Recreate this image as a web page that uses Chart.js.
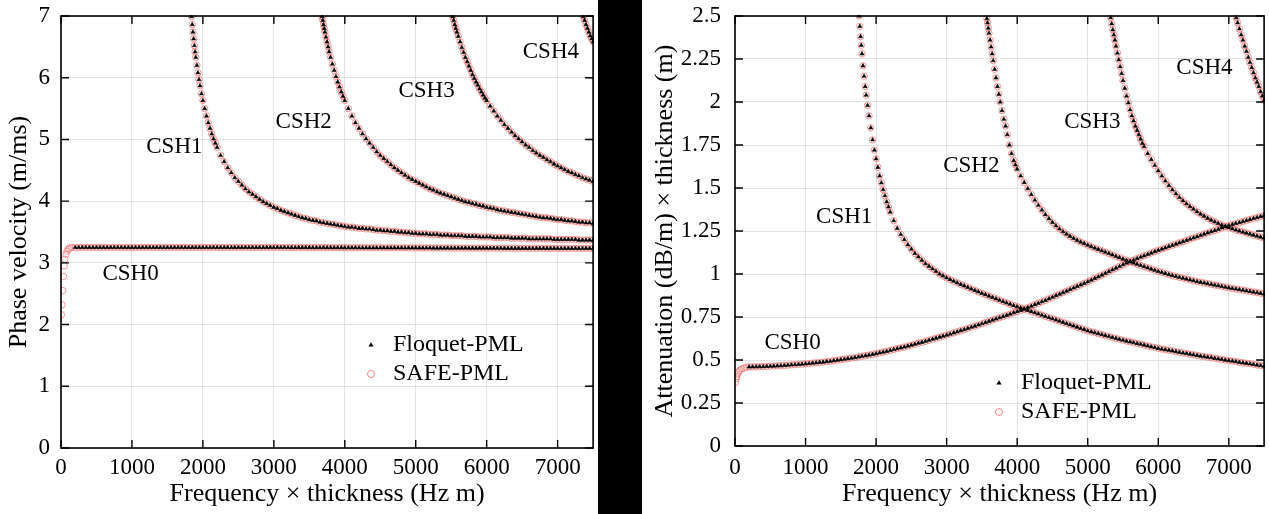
<!DOCTYPE html>
<html>
<head>
<meta charset="utf-8">
<script src="https://cdn.jsdelivr.net/npm/chart.js@4.4.1/dist/chart.umd.min.js"></script>
<style>
  body { margin: 0; background: #fff; }
  #wrap { position: relative; width: 1269px; height: 514px; background: #fff; overflow: hidden; }
  #velChart { position: absolute; left: 0; top: 0; }
  #attChart { position: absolute; left: 642px; top: 0; }
  #divider { position: absolute; left: 598px; top: 0; width: 44px; height: 514px; background: #000; }
</style>
</head>
<body>
<div id="wrap">
  <canvas id="velChart" width="598" height="514"></canvas>
  <div id="divider"></div>
  <canvas id="attChart" width="627" height="514"></canvas>
</div>
<script>
// shared frequency x thickness grid (Hz m) for the smooth tails of every mode
const freqGrid = [
  500, 550, 600, 650, 700, 750, 800, 850, 900, 950,
  1000, 1050, 1100, 1150, 1200, 1250, 1300, 1350, 1400, 1450,
  1500, 1550, 1600, 1650, 1700, 1750, 1800, 1850, 1900, 1950,
  2000, 2050, 2100, 2150, 2200, 2250, 2300, 2350, 2400, 2450,
  2500, 2550, 2600, 2650, 2700, 2750, 2800, 2850, 2900, 2950,
  3000, 3050, 3100, 3150, 3200, 3250, 3300, 3350, 3400, 3450,
  3500, 3550, 3600, 3650, 3700, 3750, 3800, 3850, 3900, 3950,
  4000, 4050, 4100, 4150, 4200, 4250, 4300, 4350, 4400, 4450,
  4500, 4550, 4600, 4650, 4700, 4750, 4800, 4850, 4900, 4950,
  5000, 5050, 5100, 5150, 5200, 5250, 5300, 5350, 5400, 5450,
  5500, 5550, 5600, 5650, 5700, 5750, 5800, 5850, 5900, 5950,
  6000, 6050, 6100, 6150, 6200, 6250, 6300, 6350, 6400, 6450,
  6500, 6550, 6600, 6650, 6700, 6750, 6800, 6850, 6900, 6950,
  7000, 7050, 7100, 7150, 7200, 7250, 7300, 7350, 7400, 7450,
  7500
];

const xTickValues = [0, 1000, 2000, 3000, 4000, 5000, 6000, 7000];
const modeNames = ['CSH0', 'CSH1', 'CSH2', 'CSH3', 'CSH4'];

// ---- phase velocity (m/ms) ----
const velCsh0HeadF = [200, 250, 300, 350, 400, 450];
const velCsh0HeadV = [3.25, 3.25, 3.25, 3.25, 3.25, 3.25];
const velCsh0Tail = [
  3.25, 3.25, 3.25, 3.25, 3.25, 3.25, 3.25, 3.25, 3.25, 3.25,
  3.25, 3.25, 3.25, 3.25, 3.25, 3.25, 3.25, 3.25, 3.25, 3.25,
  3.25, 3.25, 3.25, 3.25, 3.25, 3.25, 3.25, 3.25, 3.25, 3.25,
  3.25, 3.25, 3.25, 3.25, 3.25, 3.25, 3.25, 3.25, 3.25, 3.25,
  3.25, 3.25, 3.25, 3.25, 3.25, 3.25, 3.25, 3.25, 3.25, 3.25,
  3.25, 3.25, 3.25, 3.25, 3.25, 3.249, 3.249, 3.249, 3.249, 3.249,
  3.248, 3.248, 3.248, 3.248, 3.248, 3.247, 3.247, 3.247, 3.247, 3.247,
  3.246, 3.246, 3.246, 3.246, 3.246, 3.245, 3.245, 3.245, 3.245, 3.245,
  3.244, 3.244, 3.244, 3.244, 3.244, 3.243, 3.243, 3.243, 3.243, 3.243,
  3.242, 3.242, 3.242, 3.242, 3.242, 3.241, 3.241, 3.241, 3.241, 3.241,
  3.240, 3.240, 3.240, 3.240, 3.240, 3.239, 3.239, 3.239, 3.239, 3.239,
  3.238, 3.238, 3.238, 3.238, 3.238, 3.237, 3.237, 3.237, 3.237, 3.237,
  3.236, 3.236, 3.236, 3.236, 3.236, 3.236, 3.236, 3.236, 3.236, 3.236,
  3.235, 3.235, 3.235, 3.235, 3.235, 3.235, 3.235, 3.235, 3.235, 3.235,
  3.235
];
// SAFE-PML also resolves the low-frequency start of CSH0
const velSafeStartF = [5, 15, 25, 35, 45, 55, 70, 85, 100, 120, 150];
const velSafeStartV = [2.16, 2.32, 2.55, 2.78, 2.95, 3.06, 3.14, 3.19, 3.22, 3.24, 3.25];

const velCsh1HeadF = [1840, 1850, 1860, 1870, 1880, 1890, 1900, 1915, 1930, 1945, 1960, 1980, 2000,
  2025, 2050, 2075, 2100, 2125, 2150, 2175, 2200, 2250, 2300, 2350, 2400, 2450];
const velCsh1HeadV = [6.99, 6.86, 6.74, 6.63, 6.52, 6.42, 6.33, 6.20, 6.08, 5.97, 5.87, 5.74, 5.63,
  5.50, 5.38, 5.27, 5.18, 5.09, 5.01, 4.94, 4.87, 4.74, 4.64, 4.54, 4.46, 4.38];
const velCsh1Tail = [
  4.32, 4.26, 4.20, 4.15, 4.11, 4.07, 4.03, 3.99, 3.96, 3.93,
  3.90, 3.88, 3.85, 3.83, 3.81, 3.79, 3.77, 3.75, 3.73, 3.72,
  3.70, 3.69, 3.68, 3.66, 3.65, 3.64, 3.63, 3.62, 3.61, 3.60,
  3.59, 3.58, 3.58, 3.57, 3.56, 3.56, 3.55, 3.55, 3.54, 3.53,
  3.53, 3.52, 3.52, 3.51, 3.51, 3.50, 3.50, 3.49, 3.49, 3.48,
  3.48, 3.47, 3.47, 3.47, 3.46, 3.46, 3.46, 3.45, 3.45, 3.45,
  3.44, 3.44, 3.44, 3.44, 3.43, 3.43, 3.43, 3.43, 3.42, 3.42,
  3.42, 3.42, 3.41, 3.41, 3.41, 3.41, 3.41, 3.40, 3.40, 3.40,
  3.40, 3.40, 3.39, 3.39, 3.39, 3.39, 3.39, 3.39, 3.39, 3.38,
  3.38, 3.38, 3.38, 3.38, 3.38, 3.38, 3.37, 3.37, 3.37, 3.37,
  3.37
];

const velCsh2HeadF = [3680, 3690, 3700, 3710, 3720, 3735, 3750, 3765, 3780, 3800, 3825, 3850, 3875,
  3900, 3925, 3950, 3975];
const velCsh2HeadV = [6.99, 6.93, 6.86, 6.80, 6.74, 6.66, 6.58, 6.50, 6.42, 6.33, 6.22, 6.12, 6.02,
  5.93, 5.85, 5.77, 5.70];
const velCsh2Tail = [
  5.63, 5.50, 5.38, 5.27, 5.18, 5.09, 5.01, 4.94, 4.87, 4.80,
  4.74, 4.69, 4.64, 4.59, 4.54, 4.50, 4.46, 4.42, 4.38, 4.35,
  4.32, 4.29, 4.26, 4.23, 4.20, 4.18, 4.15, 4.13, 4.11, 4.09,
  4.07, 4.05, 4.03, 4.01, 3.99, 3.98, 3.96, 3.95, 3.93, 3.92,
  3.90, 3.89, 3.88, 3.86, 3.85, 3.84, 3.83, 3.82, 3.81, 3.80,
  3.79, 3.78, 3.77, 3.76, 3.75, 3.74, 3.73, 3.73, 3.72, 3.71,
  3.70, 3.70, 3.69, 3.68, 3.68, 3.67, 3.66, 3.66, 3.65, 3.65,
  3.64
];

const velCsh3HeadF = [5520, 5535, 5550, 5565, 5580, 5600, 5625, 5650, 5675, 5700, 5725, 5750, 5775,
  5800, 5825, 5850, 5875, 5900, 5925, 5950, 5975];
const velCsh3HeadV = [6.99, 6.93, 6.86, 6.80, 6.74, 6.67, 6.58, 6.49, 6.41, 6.33, 6.26, 6.19, 6.12,
  6.05, 5.99, 5.93, 5.88, 5.82, 5.77, 5.72, 5.67];
const velCsh3Tail = [
  5.63, 5.54, 5.46, 5.38, 5.31, 5.24, 5.18, 5.12, 5.06, 5.01,
  4.96, 4.91, 4.87, 4.82, 4.78, 4.74, 4.71, 4.67, 4.64, 4.60,
  4.57, 4.54, 4.51, 4.48, 4.46, 4.43, 4.41, 4.38, 4.36, 4.34,
  4.32
];

const velCsh4HeadF = [7360, 7380, 7400, 7420, 7440, 7460, 7480, 7500];
const velCsh4HeadV = [6.99, 6.93, 6.86, 6.80, 6.74, 6.68, 6.63, 6.58];
const velCsh4Tail = [];

const velLabelF = [981, 1598, 3421, 5153, 6905];
const velLabelV = [2.82, 4.88, 5.28, 5.79, 6.41];

// ---- attenuation (dB/m) x thickness (m) ----
const attCsh0HeadF = [200, 250, 300, 350, 400, 450];
const attCsh0HeadV = [0.46, 0.46, 0.461, 0.461, 0.462, 0.463];
const attCsh0Tail = [
  0.464, 0.465, 0.466, 0.467, 0.469, 0.470, 0.472, 0.473, 0.475, 0.476,
  0.478, 0.480, 0.482, 0.484, 0.486, 0.488, 0.491, 0.493, 0.496, 0.499,
  0.502, 0.505, 0.508, 0.511, 0.514, 0.518, 0.522, 0.525, 0.529, 0.533,
  0.537, 0.542, 0.546, 0.551, 0.556, 0.561, 0.566, 0.571, 0.576, 0.581,
  0.587, 0.592, 0.598, 0.603, 0.609, 0.615, 0.621, 0.627, 0.633, 0.639,
  0.645, 0.651, 0.658, 0.664, 0.671, 0.677, 0.684, 0.691, 0.697, 0.704,
  0.711, 0.718, 0.725, 0.732, 0.739, 0.746, 0.753, 0.760, 0.767, 0.775,
  0.782, 0.789, 0.797, 0.805, 0.813, 0.822, 0.830, 0.839, 0.847, 0.856,
  0.865, 0.874, 0.883, 0.892, 0.901, 0.910, 0.919, 0.928, 0.937, 0.946,
  0.955, 0.965, 0.975, 0.984, 0.994, 1.004, 1.014, 1.024, 1.034, 1.044,
  1.054, 1.064, 1.073, 1.081, 1.090, 1.098, 1.106, 1.114, 1.122, 1.130,
  1.138, 1.145, 1.152, 1.160, 1.167, 1.174, 1.181, 1.188, 1.196, 1.203,
  1.210, 1.217, 1.224, 1.232, 1.239, 1.246, 1.253, 1.260, 1.268, 1.275,
  1.282, 1.288, 1.294, 1.299, 1.305, 1.311, 1.317, 1.323, 1.328, 1.334,
  1.340
];
const attSafeStartF = [5, 15, 25, 35, 50, 70, 95, 125, 160];
const attSafeStartV = [0.37, 0.39, 0.405, 0.418, 0.43, 0.44, 0.448, 0.453, 0.457];

const attCsh1HeadF = [1760, 1770, 1780, 1790, 1800, 1815, 1830, 1845, 1860, 1880, 1900, 1925, 1950,
  1975, 2000, 2025, 2050, 2075, 2100, 2125, 2150, 2175, 2200, 2250, 2300, 2350, 2400, 2450];
const attCsh1HeadV = [2.50, 2.44, 2.38, 2.33, 2.28, 2.21, 2.15, 2.09, 2.04, 1.98, 1.92, 1.85, 1.78,
  1.72, 1.67, 1.62, 1.57, 1.53, 1.49, 1.455, 1.42, 1.39, 1.36, 1.31, 1.265, 1.23, 1.20, 1.17];
const attCsh1Tail = [
  1.145, 1.12, 1.10, 1.08, 1.06, 1.045, 1.03, 1.015, 1.00, 0.989,
  0.978, 0.968, 0.958, 0.949, 0.940, 0.931, 0.922, 0.913, 0.905, 0.896,
  0.888, 0.880, 0.872, 0.864, 0.856, 0.848, 0.840, 0.832, 0.825, 0.817,
  0.810, 0.803, 0.796, 0.789, 0.782, 0.775, 0.768, 0.761, 0.754, 0.747,
  0.740, 0.733, 0.726, 0.719, 0.712, 0.705, 0.698, 0.691, 0.684, 0.677,
  0.670, 0.664, 0.659, 0.653, 0.648, 0.642, 0.637, 0.631, 0.626, 0.620,
  0.615, 0.610, 0.606, 0.601, 0.596, 0.592, 0.587, 0.582, 0.577, 0.573,
  0.568, 0.564, 0.560, 0.557, 0.553, 0.549, 0.545, 0.541, 0.538, 0.534,
  0.530, 0.527, 0.523, 0.520, 0.517, 0.514, 0.510, 0.507, 0.504, 0.500,
  0.497, 0.494, 0.491, 0.487, 0.484, 0.481, 0.478, 0.475, 0.471, 0.468,
  0.465
];

const attCsh2HeadF = [3570, 3580, 3590, 3600, 3615, 3630, 3645, 3660, 3680, 3700, 3720, 3740, 3760,
  3785, 3810, 3835, 3860, 3890, 3920, 3950, 3975];
const attCsh2HeadV = [2.485, 2.46, 2.43, 2.40, 2.36, 2.32, 2.28, 2.24, 2.19, 2.14, 2.09, 2.045, 2.00,
  1.95, 1.90, 1.86, 1.81, 1.75, 1.70, 1.66, 1.635];
const attCsh2Tail = [
  1.61, 1.57, 1.532, 1.496, 1.462, 1.43, 1.40, 1.372, 1.346, 1.322,
  1.30, 1.28, 1.262, 1.246, 1.232, 1.219, 1.207, 1.196, 1.186, 1.177,
  1.168, 1.159, 1.151, 1.143, 1.135, 1.127, 1.119, 1.111, 1.103, 1.095,
  1.087, 1.079, 1.071, 1.064, 1.057, 1.050, 1.043, 1.036, 1.029, 1.022,
  1.015, 1.009, 1.003, 0.997, 0.991, 0.986, 0.981, 0.976, 0.971, 0.966,
  0.961, 0.956, 0.952, 0.948, 0.944, 0.94, 0.936, 0.932, 0.928, 0.924,
  0.92, 0.916, 0.913, 0.909, 0.906, 0.902, 0.899, 0.895, 0.892, 0.888,
  0.885
];

const attCsh3HeadF = [5325, 5340, 5355, 5370, 5385, 5400, 5420, 5440, 5460, 5480, 5500, 5525, 5550,
  5575, 5600, 5625, 5650, 5675, 5700, 5725, 5750, 5775, 5800, 5850, 5900, 5950];
const attCsh3HeadV = [2.49, 2.455, 2.42, 2.39, 2.36, 2.325, 2.285, 2.245, 2.205, 2.165, 2.125, 2.08, 2.035,
  1.995, 1.955, 1.92, 1.89, 1.86, 1.835, 1.81, 1.785, 1.76, 1.74, 1.70, 1.665, 1.632];
const attCsh3Tail = [
  1.60, 1.57, 1.541, 1.514, 1.489, 1.466, 1.445, 1.426, 1.408, 1.392,
  1.377, 1.362, 1.348, 1.336, 1.324, 1.313, 1.303, 1.294, 1.285, 1.277,
  1.27, 1.263, 1.256, 1.25, 1.244, 1.238, 1.232, 1.226, 1.221, 1.215,
  1.21
];

const attCsh4HeadF = [7105, 7125, 7150, 7175, 7200, 7225, 7250, 7275, 7300, 7325, 7350, 7375, 7400,
  7425, 7450, 7475, 7500];
const attCsh4HeadV = [2.49, 2.46, 2.425, 2.39, 2.36, 2.325, 2.295, 2.26, 2.23, 2.20, 2.17, 2.14, 2.115,
  2.09, 2.06, 2.035, 2.01];
const attCsh4Tail = [];

const attLabelF = [816, 1548, 3349, 5065, 6655];
const attLabelV = [0.602, 1.331, 1.628, 1.884, 2.198];

const serif = "'Liberation Serif', 'Times New Roman', serif";
Chart.defaults.color = '#000';
Chart.defaults.font.family = serif;

// head points + tail that runs along the end of freqGrid
function makePoints(headF, headV, tailV) {
  const pts = headF.map((f, i) => ({ x: f, y: headV[i] }));
  const start = freqGrid.length - tailV.length;
  tailV.forEach((v, i) => pts.push({ x: freqGrid[start + i], y: v }));
  return pts;
}

function floquetSet(data) {
  return {
    data, order: 0, pointStyle: 'triangle', pointRadius: 2.3,
    backgroundColor: '#000', borderColor: '#000', borderWidth: 0.6, clip: 1
  };
}
function safeSet(data) {
  return {
    data, order: 1, pointStyle: 'circle', pointRadius: 3.2,
    backgroundColor: 'rgba(0,0,0,0)', borderColor: 'rgba(236,120,120,0.85)', borderWidth: 0.9, clip: 1
  };
}

// no extra room for edge labels: the plot box is fixed
function noPad(s) {
  s.paddingTop = 0; s.paddingBottom = 0; s.paddingLeft = 0; s.paddingRight = 0;
}

// frame, inward ticks, mode labels and the legend
const decor = {
  id: 'decor',
  afterDatasetsDraw(chart, args, o) {
    const { ctx, chartArea: a, scales: { x, y } } = chart;
    ctx.save();
    ctx.strokeStyle = '#000';
    ctx.lineWidth = 1.4;
    ctx.beginPath();
    x.ticks.forEach(t => {
      const px = x.getPixelForValue(t.value);
      ctx.moveTo(px, a.bottom); ctx.lineTo(px, a.bottom - 8);
      ctx.moveTo(px, a.top); ctx.lineTo(px, a.top + 8);
    });
    y.ticks.forEach(t => {
      const py = y.getPixelForValue(t.value);
      ctx.moveTo(a.left, py); ctx.lineTo(a.left + 8, py);
      ctx.moveTo(a.right, py); ctx.lineTo(a.right - 8, py);
    });
    ctx.stroke();
    ctx.lineWidth = 1.6;
    ctx.strokeRect(a.left, a.top, a.right - a.left, a.bottom - a.top);

    ctx.fillStyle = '#000';
    ctx.font = '23px ' + serif;
    ctx.textAlign = 'center';
    ctx.textBaseline = 'middle';
    o.labelF.forEach((f, i) => {
      ctx.fillText(modeNames[i], x.getPixelForValue(f), y.getPixelForValue(o.labelV[i]));
    });

    // legend
    const lx = o.legendX, ly = o.legendY;
    ctx.beginPath();
    ctx.moveTo(lx, ly - 2.8); ctx.lineTo(lx + 2.6, ly + 1.6); ctx.lineTo(lx - 2.6, ly + 1.6);
    ctx.closePath();
    ctx.fill();
    ctx.beginPath();
    ctx.arc(lx, ly + 29, 3.5, 0, Math.PI * 2);
    ctx.strokeStyle = 'rgba(236,120,120,0.9)';
    ctx.lineWidth = 1;
    ctx.stroke();
    ctx.font = '24px ' + serif;
    ctx.textAlign = 'left';
    ctx.fillText('Floquet-PML', lx + 22, ly);
    ctx.fillText('SAFE-PML', lx + 22, ly + 29);
    ctx.restore();
  }
};

function makeChart(id, cfg) {
  const floquet = cfg.modes.map(m => floquetSet(makePoints(m[0], m[1], m[2])));
  const safe = cfg.modes.map((m, i) => {
    const f = i === 0 ? cfg.safeStartF.concat(m[0]) : m[0];
    const v = i === 0 ? cfg.safeStartV.concat(m[1]) : m[1];
    return safeSet(makePoints(f, v, m[2]));
  });
  return new Chart(document.getElementById(id), {
    type: 'scatter',
    data: { datasets: floquet.concat(safe) },
    plugins: [decor],
    options: {
      responsive: false,
      animation: false,
      devicePixelRatio: 1,
      layout: { padding: { top: 16, right: cfg.padRight, left: 0, bottom: 0 } },
      plugins: {
        legend: { display: false },
        tooltip: { enabled: false },
        decor: { labelF: cfg.labelF, labelV: cfg.labelV, legendX: cfg.legendX, legendY: cfg.legendY }
      },
      scales: {
        x: {
          type: 'linear', min: 0, max: 7500,
          afterBuildTicks: s => { s.ticks = xTickValues.map(v => ({ value: v })); },
          afterFit: s => { s.height = cfg.xHeight; noPad(s); },
          ticks: { padding: cfg.xTickPad, maxRotation: 0, autoSkip: false,
                   font: { size: 23 }, callback: v => String(v) },
          grid: { color: '#e3e3e3', lineWidth: 1, drawTicks: false },
          border: { display: false },
          title: { display: true, text: 'Frequency \u00d7 thickness (Hz m)',
                   font: { size: 26 }, padding: { top: 0, bottom: 4 } }
        },
        y: {
          type: 'linear', min: 0, max: cfg.yMax,
          afterFit: s => { s.width = cfg.yWidth; noPad(s); },
          ticks: { stepSize: cfg.yStep, padding: cfg.yTickPad, font: { size: 23 },
                   callback: v => String(+v.toFixed(2)) },
          grid: { color: '#e3e3e3', lineWidth: 1, drawTicks: false },
          border: { display: false },
          title: { display: true, text: cfg.yTitle, font: { size: 26 },
                   padding: { top: cfg.yTitlePad, bottom: 0 } }
        }
      }
    }
  });
}

makeChart('velChart', {
  modes: [
    [velCsh0HeadF, velCsh0HeadV, velCsh0Tail],
    [velCsh1HeadF, velCsh1HeadV, velCsh1Tail],
    [velCsh2HeadF, velCsh2HeadV, velCsh2Tail],
    [velCsh3HeadF, velCsh3HeadV, velCsh3Tail],
    [velCsh4HeadF, velCsh4HeadV, velCsh4Tail]
  ],
  safeStartF: velSafeStartF, safeStartV: velSafeStartV,
  labelF: velLabelF, labelV: velLabelV,
  legendX: 371, legendY: 345,
  yMax: 7, yStep: 1, yTitle: 'Phase velocity (m/ms)',
  yWidth: 61, yTickPad: 11, yTitlePad: 4,
  xHeight: 66, xTickPad: 6, padRight: 2
});

makeChart('attChart', {
  modes: [
    [attCsh0HeadF, attCsh0HeadV, attCsh0Tail],
    [attCsh1HeadF, attCsh1HeadV, attCsh1Tail],
    [attCsh2HeadF, attCsh2HeadV, attCsh2Tail],
    [attCsh3HeadF, attCsh3HeadV, attCsh3Tail],
    [attCsh4HeadF, attCsh4HeadV, attCsh4Tail]
  ],
  safeStartF: attSafeStartF, safeStartV: attSafeStartV,
  labelF: attLabelF, labelV: attLabelV,
  legendX: 357, legendY: 383,
  yMax: 2.5, yStep: 0.25, yTitle: 'Attenuation (dB/m) \u00d7 thickness (m)',
  yWidth: 93, yTickPad: 14, yTitlePad: 8,
  xHeight: 68, xTickPad: 8, padRight: 1
});
</script>
</body>
</html>
